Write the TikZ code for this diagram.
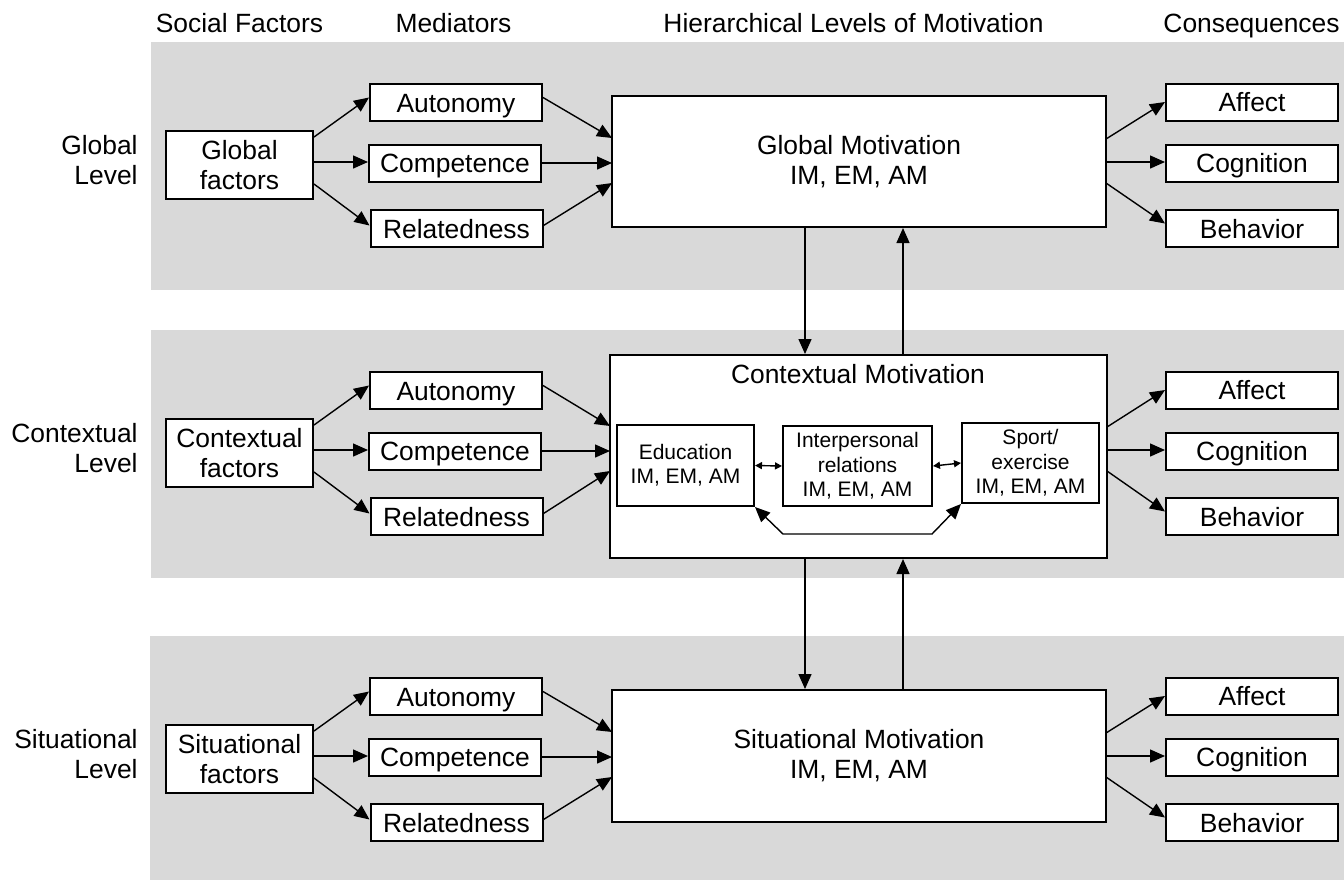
\documentclass[tikz,border=0pt]{standalone}
\usepackage{fontspec}
\setmainfont{Liberation Sans}
\usetikzlibrary{arrows.meta,calc}
\definecolor{band}{RGB}{217,217,217}
\begin{document}
\begin{tikzpicture}[x=0.5pt,y=-0.5pt,
  box/.style={draw,line width=1pt,fill=white,inner sep=0pt,align=center,font=\fontsize{13.2}{15}\selectfont},
  small/.style={box,font=\fontsize{10.5}{12.2}\selectfont},
  lbl/.style={inner sep=0pt,font=\fontsize{13.2}{15}\selectfont},
  medbox/.style={box,minimum width=86pt,minimum height=18.5pt,text height=9.5pt,text depth=0pt},
  facbox/.style={box,minimum width=73.5pt,minimum height=34pt},
  arr/.style={line width=0.7pt,-{Triangle[length=7.5pt,width=6.5pt]}},
  barr/.style={line width=0.7pt,{Triangle[length=7.5pt,width=6.5pt]}-{Triangle[length=7.5pt,width=6.5pt]}},
  darr/.style={line width=0.7pt,{Triangle[length=3.5pt,width=3.5pt]}-{Triangle[length=3.5pt,width=3.5pt]}},
]
\useasboundingbox (0,0) rectangle (1344,880);
\fill[band] (151,42) rectangle (1344,290);
\fill[band] (151,330) rectangle (1344,578);
\fill[band] (150,636) rectangle (1344,880);

% headers
\node[lbl,anchor=base] (h1) at (239.5,32) {Social Factors};
\node[lbl,anchor=base] (h2) at (453.5,32) {Mediators};
\node[lbl,anchor=base] (h3) at (853.5,32) {Hierarchical Levels of Motivation};
\node[lbl,anchor=base] (h4) at (1251.5,32) {Consequences};

% motivation boxes
\node[box,minimum width=247pt,minimum height=65.5pt] (gmot) at (859,161.5) {Global Motivation\\IM, EM, AM};
\node[box,minimum width=248.5pt,minimum height=101.5pt] (cmot) at (858.5,456.5) {};
\node[box,minimum width=247pt,minimum height=66pt] (smot) at (859,756) {Situational Motivation\\IM, EM, AM};

\node[lbl] (ctitle) at (858,374) {Contextual Motivation};
\node[small,minimum width=68.5pt,minimum height=40.5pt] (edu) at (685.5,465.5) {Education\\IM, EM, AM};
\node[small,minimum width=74.5pt,minimum height=40pt] (inter) at (857.5,466) {Interpersonal\\relations\\IM, EM, AM};
\node[small,minimum width=68.5pt,minimum height=40pt] (sport) at (1030.5,463) {Sport/\\exercise\\IM, EM, AM};
\draw[darr] (edu.east) -- (inter.west);
\draw[darr] (inter.east) -- (sport.west);
\coordinate (b1) at (783,534);
\coordinate (b2) at (932,534);
\draw[barr] (edu.south east) -- (b1) -- (b2) -- (sport.south west);

% vertical arrows
\coordinate (vx1) at (805,0);
\coordinate (vx2) at (903,0);
\draw[arr] (gmot.south -| vx1) -- (cmot.north -| vx1);
\draw[arr] (cmot.north -| vx2) -- (gmot.south -| vx2);
\draw[arr] (cmot.south -| vx1) -- (smot.north -| vx1);
\draw[arr] (smot.north -| vx2) -- (cmot.south -| vx2);

% rows
\foreach \r/\o/\wx/\ex/\nm in {g/0/612/1106/Global, c/288/610/1107/Contextual, s/594/612/1106/Situational}{
  \node[lbl,anchor=east,align=right] (\r lev) at (138,\o+160) {\nm\\Level};
  \node[facbox] (\r fac) at (239.5,\o+165) {\nm\\factors};
  \node[medbox] (\r aut) at (456,\o+102.5) {Autonomy};
  \node[medbox] (\r com) at (455,\o+163) {Competence};
  \node[medbox] (\r rel) at (456.5,\o+228.5) {Relatedness};
  \node[medbox] (\r aff) at (1252,\o+102) {Affect};
  \node[medbox] (\r cog) at (1252,\o+163) {Cognition};
  \node[medbox] (\r beh) at (1252,\o+228.5) {Behavior};
  \draw[arr] ($(\r fac.east)+(0,-28)$) -- ($(\r aut.west)+(0,-5)$);
  \draw[arr] ($(\r fac.east)+(0,-3)$) -- ($(\r com.west)+(0,-1)$);
  \draw[arr] ($(\r fac.east)+(0,19)$) -- ($(\r rel.west)+(0,-3)$);
  \coordinate (\r i1) at (\wx,\o+138);
  \coordinate (\r i2) at (\wx,\o+163);
  \coordinate (\r i3) at (\wx,\o+183);
  \draw[arr] ($(\r aut.east)+(0,-5)$) -- (\r i1);
  \draw[arr] (\r com.east) -- (\r i2);
  \draw[arr] ($(\r rel.east)+(0,-3)$) -- (\r i3);
  \coordinate (\r o1) at (\ex,\o+139);
  \coordinate (\r o2) at (\ex,\o+162);
  \coordinate (\r o3) at (\ex,\o+183);
  \draw[arr] (\r o1) -- (\r aff.west);
  \draw[arr] (\r o2) -- ($(\r cog.west)+(0,-1)$);
  \draw[arr] (\r o3) -- ($(\r beh.west)+(0,-5)$);
}
\end{tikzpicture}
\end{document}
